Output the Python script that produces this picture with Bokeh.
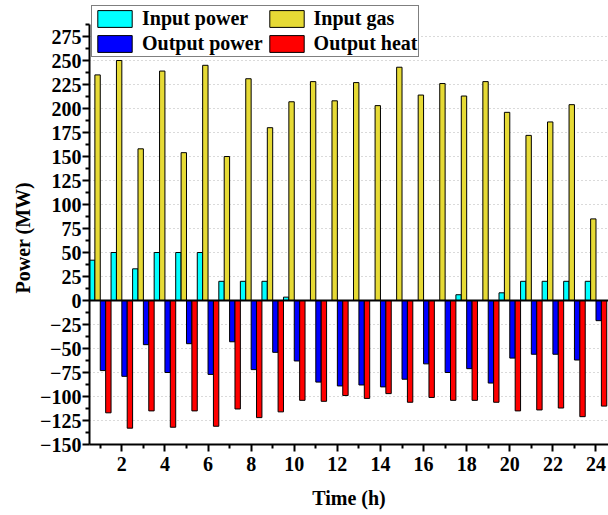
from bokeh.plotting import figure
from bokeh.models import ColumnDataSource, Range1d, FixedTicker, Span, Title
from bokeh.transform import dodge
from bokeh.embed import file_html
from bokeh.resources import INLINE

hours = list(range(1, 25))
input_power = [42, 50, 33, 50, 50, 50, 20, 20, 20, 3.5, 0, 0,
               0, 0, 0, 0, 0, 6, 0, 8, 20, 20, 20, 20]
input_gas = [235, 250, 158, 239, 154, 245, 150, 231, 180, 207, 228, 208,
             227, 203, 243, 214, 226, 213, 228, 196, 172, 186, 204, 85]
output_power = [-73, -79, -46, -75, -45, -77, -43, -72, -54, -63, -85, -89,
                -88, -90, -82, -66, -75, -71, -86, -60, -56, -56, -62, -21]
output_heat = [-117, -133, -115, -132, -115, -131, -113, -122, -116, -104, -105, -99,
               -102, -97, -106, -101, -104, -104, -106, -115, -114, -112, -121, -110]

y_ticks = list(range(-150, 276, 25))
x_ticks = list(range(2, 25, 2))

src = ColumnDataSource(dict(hour=hours, ip=input_power, ig=input_gas,
                            op=output_power, oh=output_heat))

FONT = "Liberation Serif"

p = figure(width=608, height=515, output_backend="svg", toolbar_location=None,
           x_range=Range1d(0.5, 24.58), y_range=Range1d(-150, 312.5),
           min_border_left=89, min_border_right=0, min_border_top=0,
           min_border_bottom=71)
p.outline_line_color = None
p.background_fill_color = "white"

w = 0.25
p.vbar(x=dodge("hour", -0.375, range=p.x_range), top="ip", bottom=0, width=w, source=src,
       fill_color="#00FFFF", line_color="black", line_width=1, legend_label="Input power")
p.vbar(x=dodge("hour", -0.125, range=p.x_range), top="ig", bottom=0, width=w, source=src,
       fill_color="#E6DA35", line_color="black", line_width=1, legend_label="Input gas")
p.vbar(x=dodge("hour", 0.125, range=p.x_range), top="op", bottom=0, width=w, source=src,
       fill_color="#0000FF", line_color="black", line_width=1, legend_label="Output power")
p.vbar(x=dodge("hour", 0.375, range=p.x_range), top="oh", bottom=0, width=w, source=src,
       fill_color="#FF0000", line_color="black", line_width=1, legend_label="Output heat")

p.add_layout(Span(location=0, dimension="width", line_color="black", line_width=2))

# axes
p.xaxis.ticker = FixedTicker(ticks=x_ticks, minor_ticks=[h for h in hours if h % 2 == 1])
p.yaxis.ticker = FixedTicker(ticks=y_ticks, minor_ticks=[t + 12.5 for t in y_ticks])
p.yaxis.bounds = (-150, 287)
for ax in (p.xaxis, p.yaxis):
    ax.axis_line_width = 2
    ax.axis_line_color = "black"
    ax.major_tick_line_width = 2
    ax.minor_tick_line_width = 2
    ax.major_tick_in = 0
    ax.major_tick_out = 7
    ax.minor_tick_in = 0
    ax.minor_tick_out = 4
    ax.major_label_text_font = FONT
    ax.major_label_text_font_style = "bold"
    ax.major_label_text_font_size = "20px"
    ax.major_label_text_color = "black"
p.xaxis.major_label_standoff = 5
p.yaxis.major_label_standoff = 1

p.xaxis.axis_label = "Time (h)"
p.xaxis.axis_label_text_font = FONT
p.xaxis.axis_label_text_font_style = "bold"
p.xaxis.axis_label_text_font_size = "20px"
p.xaxis.axis_label_text_color = "black"
p.xaxis.axis_label_standoff = 13

p.xgrid.grid_line_color = None
p.ygrid.grid_line_color = "#b4b4b4"
p.ygrid.grid_line_dash = "1 3"
p.ygrid.grid_line_width = 1

# y axis title
p.add_layout(Title(text="Power (MW)", align="left", offset=151, standoff=8,
                   text_font=FONT, text_font_style="bold", text_font_size="20px",
                   text_color="black"), "left")

lg = p.legend[0]
lg.items = [lg.items[0], lg.items[2], lg.items[1], lg.items[3]]
lg.ncols = 2
lg.location = (2, 387)
lg.margin = 0
lg.padding = 1
lg.spacing = 2
lg.glyph_width = 43
lg.glyph_height = 21
lg.label_standoff = 6
lg.label_text_font = FONT
lg.label_text_font_style = "bold"
lg.label_text_font_size = "20px"
lg.label_text_color = "black"
lg.label_height = 20
lg.border_line_color = "black"
lg.border_line_width = 1
lg.background_fill_alpha = 1

open("out.html", "w").write(file_html(p, INLINE))
